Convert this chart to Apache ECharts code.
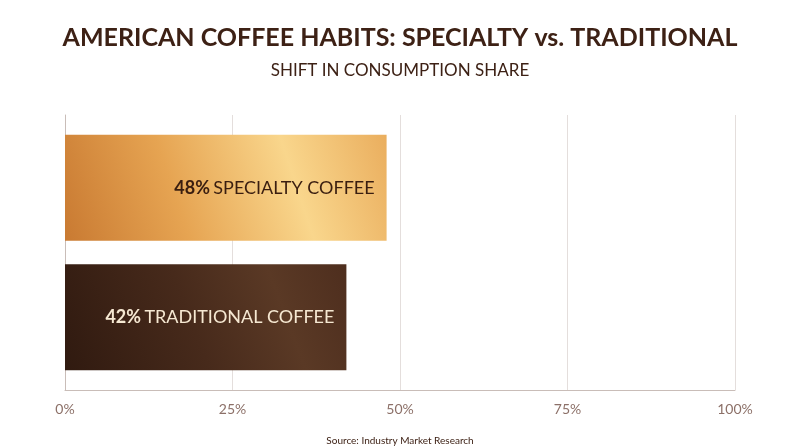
<!DOCTYPE html>
<html>
<head>
<meta charset="utf-8">
<script src="https://cdn.jsdelivr.net/npm/echarts@6/dist/echarts.min.js"></script>
<style>html,body{margin:0;padding:0;background:#fff;}#c{width:800px;height:447px;}</style>
</head>
<body>
<div id="c"></div>
<script>
var seriesNames = ['SPECIALTY COFFEE', 'TRADITIONAL COFFEE'];
var seriesValues = [48, 42];
var tickLabels = ['0%', '25%', '50%', '75%', '100%'];
var category = ['Share'];

var chart = echarts.init(document.getElementById('c'));
var fontFam = 'Lato, "Open Sans", sans-serif';

var fills = [
  new echarts.graphic.LinearGradient(0, 1, 1, 0, [
    {offset: 0, color: '#c97a32'},
    {offset: 0.35, color: '#e6a452'},
    {offset: 0.7, color: '#f9d68c'},
    {offset: 1, color: '#eaae5e'}
  ]),
  new echarts.graphic.LinearGradient(0, 1, 1, 0, [
    {offset: 0, color: '#301a10'},
    {offset: 0.45, color: '#472a1b'},
    {offset: 0.75, color: '#5a3925'},
    {offset: 1, color: '#4e2e1e'}
  ])
];
var textColors = ['#3a1e10', '#f6e8d2'];

chart.setOption({
  backgroundColor: '#ffffff',
  title: [
    {text: 'AMERICAN COFFEE HABITS: SPECIALTY vs. TRADITIONAL', left: 'center', top: 20,
     textStyle: {fontFamily: fontFam, fontWeight: 'bold', fontSize: 25, color: '#3d2115'}},
    {text: 'SHIFT IN CONSUMPTION SHARE', left: 'center', top: 57,
     textStyle: {fontFamily: fontFam, fontWeight: 'normal', fontSize: 17, color: '#3d2115'}},
    {text: 'Source: Industry Market Research', left: 'center', top: 431,
     textStyle: {fontFamily: fontFam, fontWeight: 'normal', fontSize: 10, color: '#3d2115'}}
  ],
  grid: {left: 65, right: 65, top: 115, bottom: 57, containLabel: false},
  xAxis: {
    type: 'value', min: 0, max: 100, interval: 25,
    axisLine: {show: true, lineStyle: {color: '#c9bdb8', width: 1}},
    axisTick: {show: false},
    splitLine: {show: true, lineStyle: {color: '#e4dedc', width: 1}},
    axisLabel: {
      color: '#8c7068', fontFamily: fontFam, fontSize: 14, margin: 12,
      formatter: function (v) { return tickLabels[Math.round(v / 25)]; }
    }
  },
  yAxis: {
    type: 'category', data: category,
    axisLine: {show: true, lineStyle: {color: '#c9bdb8', width: 1}},
    axisTick: {show: false}, axisLabel: {show: false}
  },
  series: seriesNames.map(function (name, i) {
    return {
      type: 'bar', name: name,
      data: [seriesValues[i]],
      barWidth: 106, barGap: '22%',
      itemStyle: {color: fills[i]},
      label: {
        show: true, position: 'insideRight', distance: 12,
        formatter: '{b|' + seriesValues[i] + '%} {n|' + name + '}',
        rich: {
          b: {fontFamily: fontFam, fontWeight: 'bold', fontSize: 18, color: textColors[i]},
          n: {fontFamily: fontFam, fontWeight: 'normal', fontSize: 18, color: textColors[i]}
        }
      }
    };
  })
});
</script>
</body>
</html>
